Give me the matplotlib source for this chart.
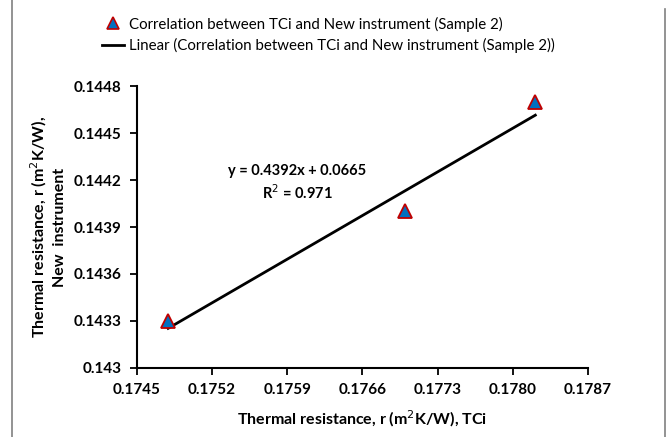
import matplotlib.pyplot as plt
import numpy as np
from matplotlib.lines import Line2D

plt.rcParams["font.family"] = ["Lato", "DejaVu Sans"]

# Data
r_tci = [0.17479, 0.17700, 0.17821]
r_new = [0.14330, 0.14400, 0.14470]
x_ticks = [0.1745, 0.1752, 0.1759, 0.1766, 0.1773, 0.1780, 0.1787]
y_ticks = [0.1430, 0.1433, 0.1436, 0.1439, 0.1442, 0.1445, 0.1448]
x_ticklabels = ["0.1745", "0.1752", "0.1759", "0.1766", "0.1773", "0.1780", "0.1787"]
y_ticklabels = ["0.143", "0.1433", "0.1436", "0.1439", "0.1442", "0.1445", "0.1448"]
eq_text = "y = 0.4392x + 0.0665\nR$^{2}$ = 0.971"

fig = plt.figure(figsize=(6.7, 4.37), dpi=100)
ax = fig.add_axes([0.2045, 0.158, 0.673, 0.645])

# Trend line (least squares through the points)
slope, icpt = np.polyfit(r_tci, r_new, 1)
xs = np.array([r_tci[0], r_tci[-1]])
ax.plot(xs, slope * xs + icpt, c="black", lw=2, zorder=2)

ax.plot(r_tci, r_new, ls="none", marker="^", ms=10, mfc="#0070C0",
        mec="#C00000", mew=1.3, zorder=3)

ax.set_xlim(x_ticks[0], x_ticks[-1])
ax.set_ylim(y_ticks[0], y_ticks[-1])
ax.set_xticks(x_ticks)
ax.set_xticklabels(x_ticklabels, fontsize=11, fontweight="bold")
ax.set_yticks(y_ticks)
ax.set_yticklabels(y_ticklabels, fontsize=11, fontweight="bold")
ax.tick_params(direction="out", length=5, width=1.3, pad=6)
for side in ["top", "right"]:
    ax.spines[side].set_visible(False)
for side in ["left", "bottom"]:
    ax.spines[side].set_linewidth(1.5)

ax.set_xlabel("Thermal resistance, r (m$^{2}$K/W), TCi", fontsize=11.5,
              fontweight="bold", labelpad=8)
ax.set_ylabel("Thermal resistance, r (m$^{2}$K/W),\nNew  instrument",
              fontsize=11.5, fontweight="bold", labelpad=5, linespacing=1.4)

ax.text(0.17599, 0.14418, eq_text, ha="center", va="center", fontsize=10.5,
        fontweight="bold", linespacing=1.3)

handles = [
    Line2D([], [], ls="none", marker="^", ms=8, mfc="#0070C0", mec="#C00000", mew=1.2),
    Line2D([], [], c="black", lw=2),
]
labels = [
    "Correlation between TCi and New instrument (Sample 2)",
    "Linear (Correlation between TCi and New instrument (Sample 2))",
]
fig.legend(handles, labels, loc="center", bbox_to_anchor=(0.49, 0.92),
           frameon=False, fontsize=10.8, handlelength=1.5, handletextpad=0.3,
           labelspacing=0.45)

# Chart area frame lines
fig.add_artist(Line2D([0.018, 0.018], [0, 1], c="gray", lw=1.2))
fig.add_artist(Line2D([0.993, 0.993], [0, 0.98], c="gray", lw=1.2))

fig.savefig("out.png", dpi=100)
